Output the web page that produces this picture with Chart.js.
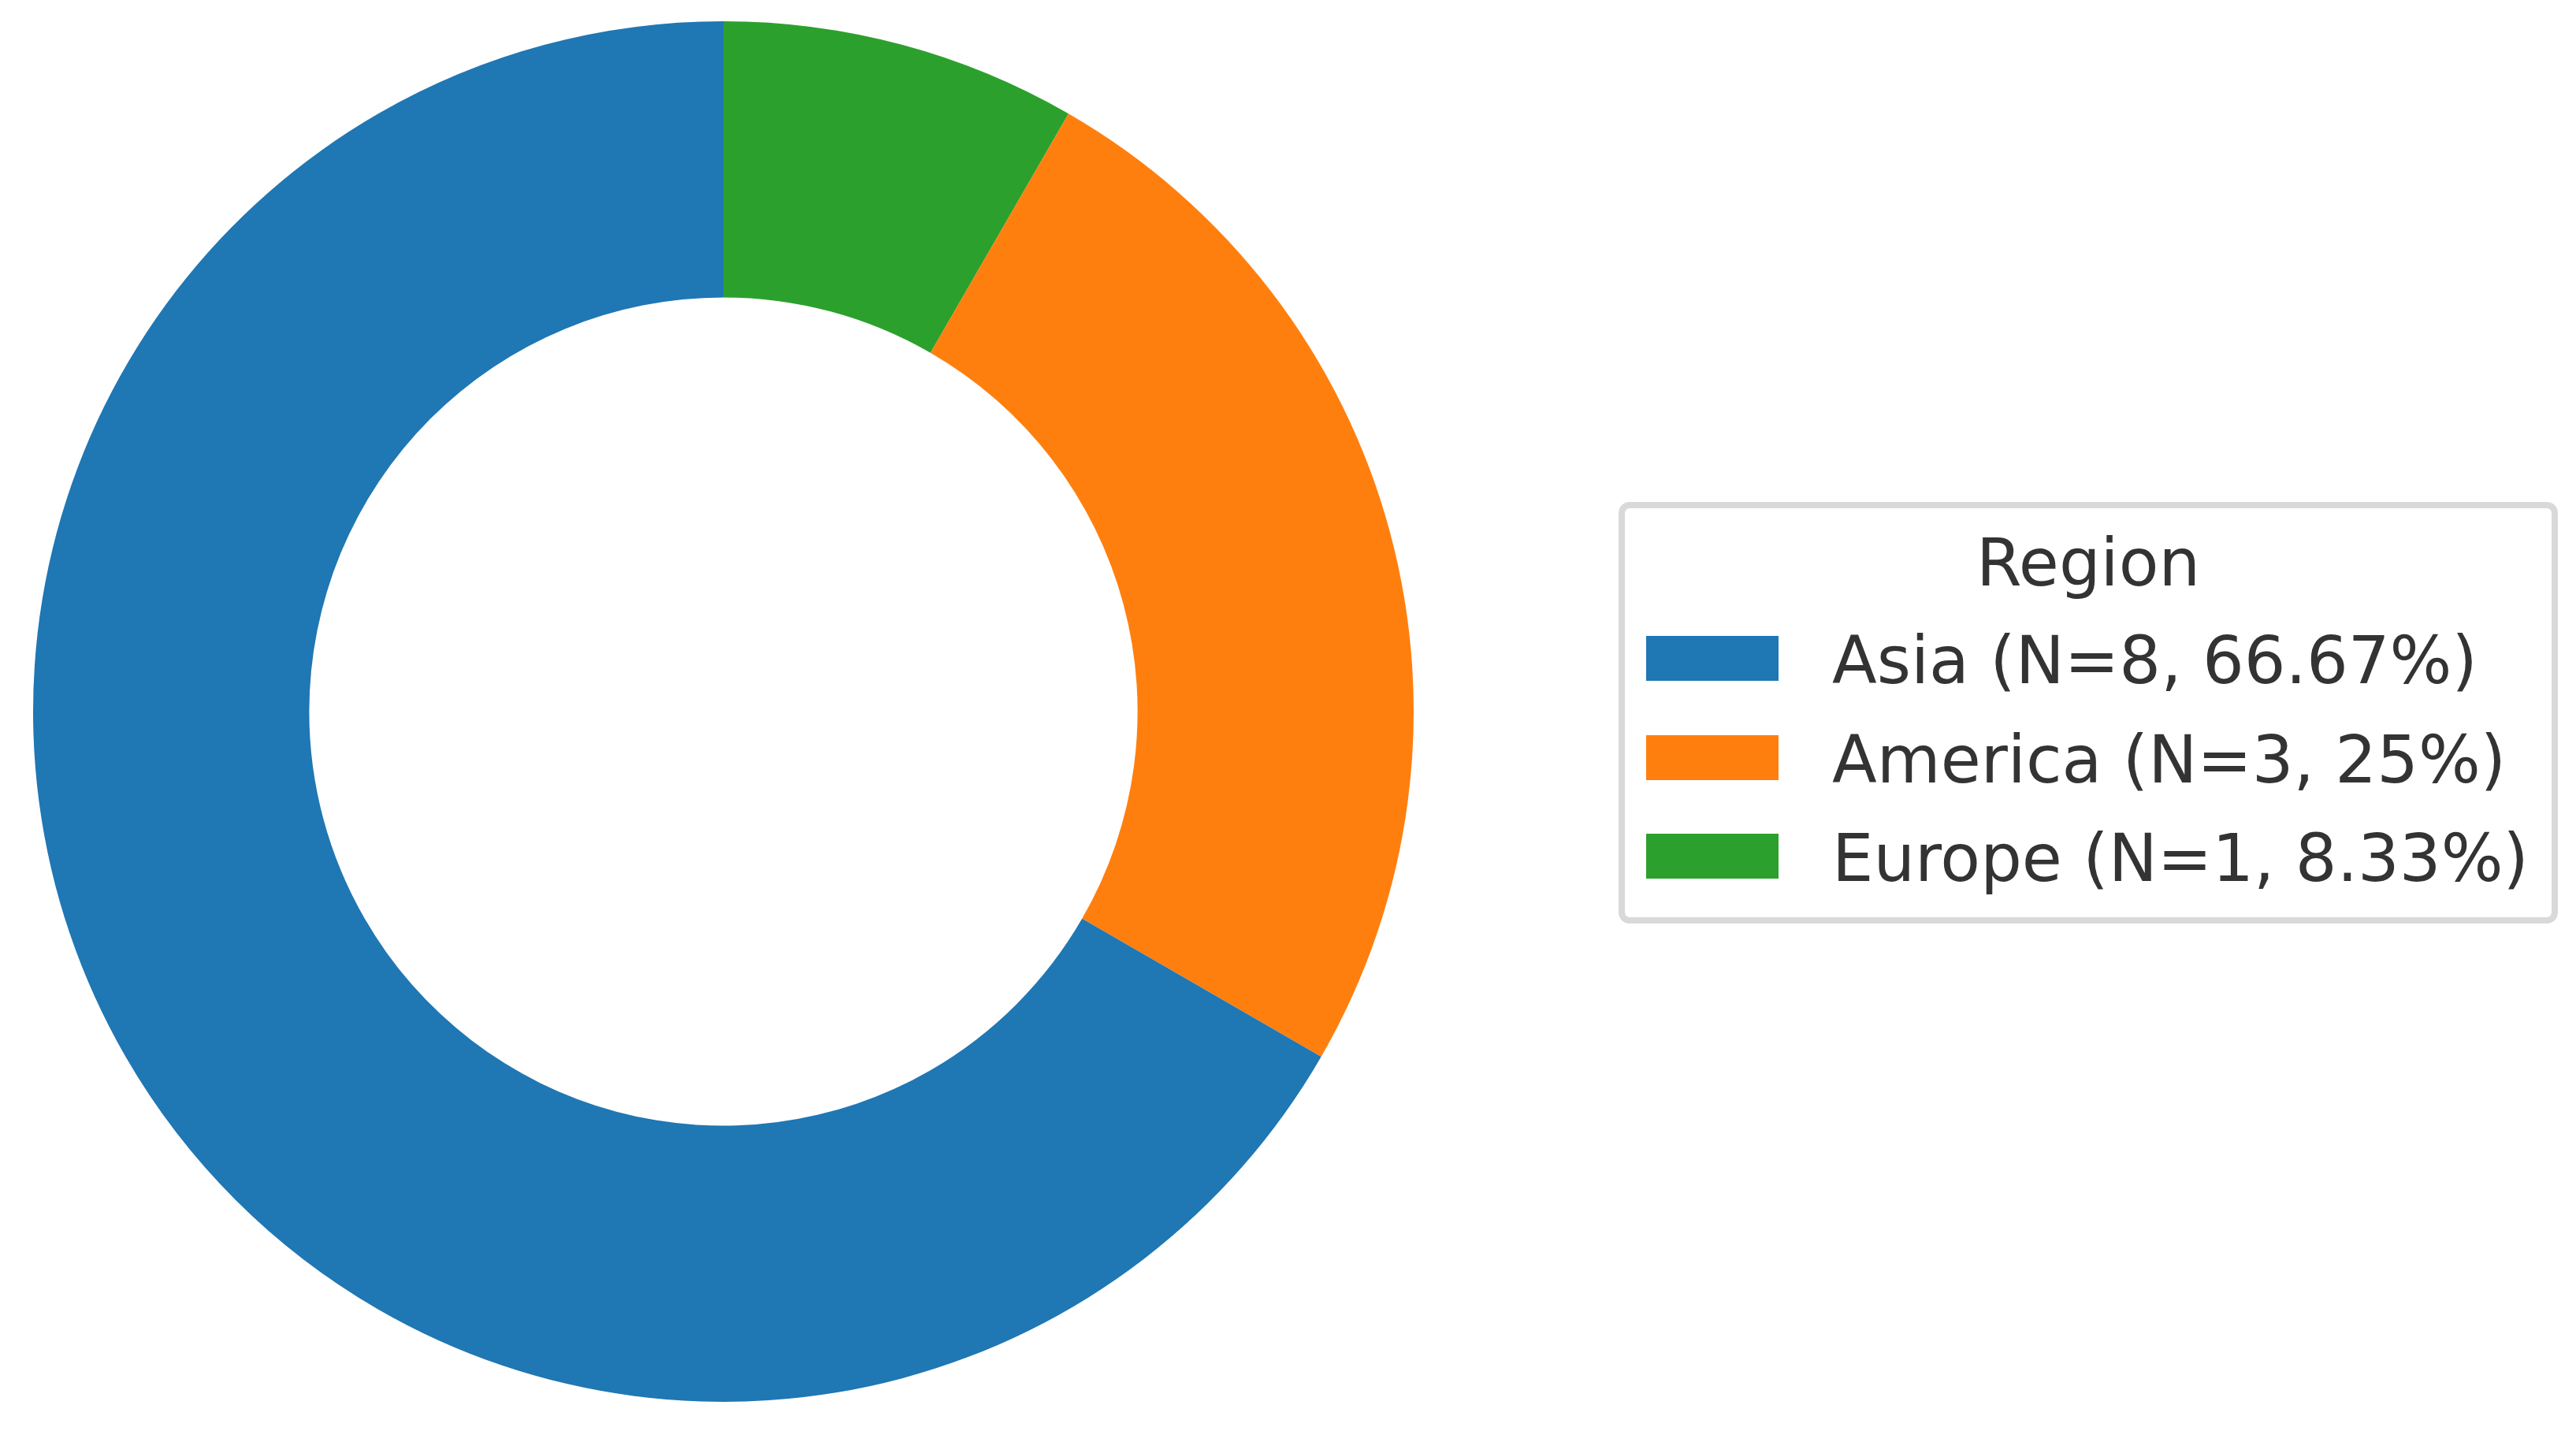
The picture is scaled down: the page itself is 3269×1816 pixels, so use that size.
<!DOCTYPE html>
<html>
<head>
<meta charset="utf-8">
<script src="https://cdn.jsdelivr.net/npm/chart.js@4.4.0/dist/chart.umd.min.js"></script>
<style>
  html, body { margin: 0; padding: 0; background: #fff; }
  body { width: 3269px; height: 1816px; position: relative; overflow: hidden;
         font-family: "DejaVu Sans", sans-serif; color: #333333; }
  #chartBox { position: absolute; left: 0; top: 0; width: 1836px; height: 1816px; }
  #legend { position: absolute; left: 2054px; top: 637px; width: 1192px; height: 535px;
            box-sizing: border-box; border: 8px solid #d9d9d9; border-radius: 14px; background: #fff; }
  #legend .title { position: absolute; left: 0; right: 0; top: 28px; text-align: center;
                   font-size: 83px; line-height: 83px; white-space: nowrap; }
  #legend .patch { position: absolute; left: 27px; width: 168px; height: 57px; }
  #legend .label { position: absolute; left: 263px; font-size: 83px; line-height: 83px; white-space: nowrap; }
</style>
</head>
<body>
<div id="chartBox"><canvas id="regionChart"></canvas></div>
<div id="legend"></div>

<script>
const regions = ['Asia', 'America', 'Europe'];
const counts = [8, 3, 1];
const colors = ['#1f77b4', '#ff7f0e', '#2ca02c'];
const legendTitle = 'Region';

document.addEventListener('DOMContentLoaded', function () {
    const total = counts.reduce((a, b) => a + b, 0);
    const labels = regions.map((r, i) =>
        r + ' (N=' + counts[i] + ', ' + (+(counts[i] / total * 100).toFixed(2)) + '%)');

    // matplotlib goes counter-clockwise from the top, Chart.js goes clockwise,
    // so feed the slices in reverse order
    const ctx = document.getElementById('regionChart');
    new Chart(ctx, {
        type: 'doughnut',
        data: {
            labels: labels.slice().reverse(),
            datasets: [{
                data: counts.slice().reverse(),
                backgroundColor: colors.slice().reverse(),
                borderWidth: 0,
                hoverBorderWidth: 0,
                hoverOffset: 0
            }]
        },
        options: {
            responsive: true,
            maintainAspectRatio: false,
            animation: false,
            events: [],
            cutout: '60%',
            layout: { padding: { top: 27, bottom: 37, left: 0, right: 0 } },
            plugins: {
                legend: { display: false },
                tooltip: { enabled: false }
            }
        }
    });

    // legend box on the right, same order as the source
    const legend = document.getElementById('legend');
    const title = document.createElement('div');
    title.className = 'title';
    title.textContent = legendTitle;
    legend.appendChild(title);

    const rowStep = 125.5;
    regions.forEach(function (r, i) {
        const patch = document.createElement('div');
        patch.className = 'patch';
        patch.style.top = (162 + i * rowStep) + 'px';
        patch.style.background = colors[i];
        legend.appendChild(patch);

        const label = document.createElement('div');
        label.className = 'label';
        label.style.top = (152 + i * rowStep) + 'px';
        label.textContent = labels[i];
        legend.appendChild(label);
    });
});
</script>
</body>
</html>
